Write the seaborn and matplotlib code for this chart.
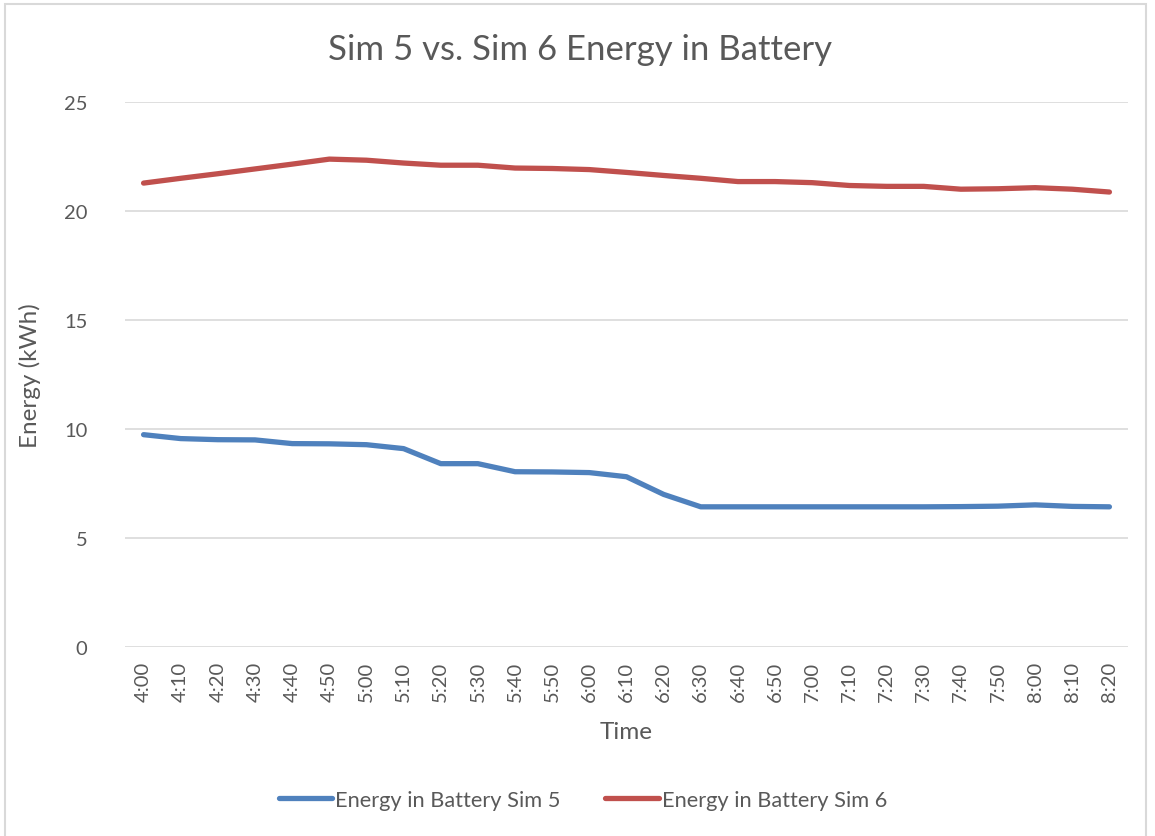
import matplotlib
matplotlib.use("Agg")
import matplotlib.pyplot as plt
import seaborn as sns
import pandas as pd
from matplotlib.patches import Rectangle

times = ["4:00", "4:10", "4:20", "4:30", "4:40", "4:50", "5:00", "5:10", "5:20",
         "5:30", "5:40", "5:50", "6:00", "6:10", "6:20", "6:30", "6:40", "6:50",
         "7:00", "7:10", "7:20", "7:30", "7:40", "7:50", "8:00", "8:10", "8:20"]

sim5 = [9.74, 9.56, 9.51, 9.50, 9.33, 9.32, 9.28, 9.10, 8.41,
        8.41, 8.04, 8.03, 8.00, 7.81, 7.00, 6.43, 6.43, 6.43,
        6.43, 6.43, 6.43, 6.43, 6.44, 6.46, 6.52, 6.45, 6.43]

sim6 = [21.28, 21.50, 21.71, 21.93, 22.15, 22.38, 22.33, 22.20, 22.10,
        22.10, 21.97, 21.95, 21.90, 21.77, 21.63, 21.50, 21.35, 21.35,
        21.30, 21.17, 21.13, 21.13, 21.00, 21.02, 21.07, 21.00, 20.87]

series_names = ["Energy in Battery Sim 5", "Energy in Battery Sim 6"]
palette = {series_names[0]: "#4F81BD", series_names[1]: "#C0504D"}

df = pd.concat([
    pd.DataFrame({"Time": times, "Energy": sim5, "Series": series_names[0]}),
    pd.DataFrame({"Time": times, "Energy": sim6, "Series": series_names[1]}),
], ignore_index=True)
df["pos"] = df["Time"].map({t: i for i, t in enumerate(times)})

sns.set_style("white")
plt.rcParams["font.family"] = ["Lato", "DejaVu Sans"]

text_color = "#595959"
grid_color = "#D9D9D9"

fig = plt.figure(figsize=(11.55, 8.37), dpi=100)
ax = fig.add_axes([125 / 1155, 1 - 648 / 837, (1128 - 125) / 1155, (648 - 103) / 837])

sns.lineplot(data=df, x="pos", y="Energy", hue="Series", palette=palette,
             linewidth=3.8, ax=ax, legend=False, sort=False,
             solid_capstyle="round")

ax.set_xlim(-0.5, len(times) - 0.5)
ax.set_ylim(0, 25)
ax.set_xticks(range(len(times)))
ax.set_xticklabels(times, rotation=90)
ax.set_yticks([0, 5, 10, 15, 20, 25])
ax.tick_params(axis="both", length=0, labelsize=14.5, colors=text_color)
ax.tick_params(axis="x", pad=10)
ax.tick_params(axis="y", pad=27)
ax.grid(axis="y", color=grid_color, linewidth=1.2)
ax.set_axisbelow(True)
for s in ax.spines.values():
    s.set_visible(False)

ax.set_xlabel("Time", fontsize=17.5, color=text_color, labelpad=14)
ax.set_ylabel("Energy (kWh)", fontsize=17.5, color=text_color)
ax.yaxis.set_label_coords(-84 / 1003, 0.5)

fig.text(580 / 1155, 1 - 50 / 837, "Sim 5 vs. Sim 6 Energy in Battery",
         ha="center", va="center", fontsize=25, color=text_color)

handles = [plt.Line2D([], [], color=palette[n], linewidth=3.8,
                      solid_capstyle="round") for n in series_names]
fig.legend(handles, series_names, loc="center", ncol=2,
           bbox_to_anchor=(583 / 1155, 1 - 801 / 837), frameon=False,
           fontsize=15.7, labelcolor=text_color, handlelength=2.45,
           handletextpad=0.15, columnspacing=2.05)

fig.patches.append(Rectangle((5 / 1155, -0.05), (1146 - 5) / 1155, 1.05 - 5 / 837,
                             transform=fig.transFigure, fill=False,
                             edgecolor=grid_color, linewidth=1.5))

fig.savefig("out.png", dpi=100, facecolor="white")
